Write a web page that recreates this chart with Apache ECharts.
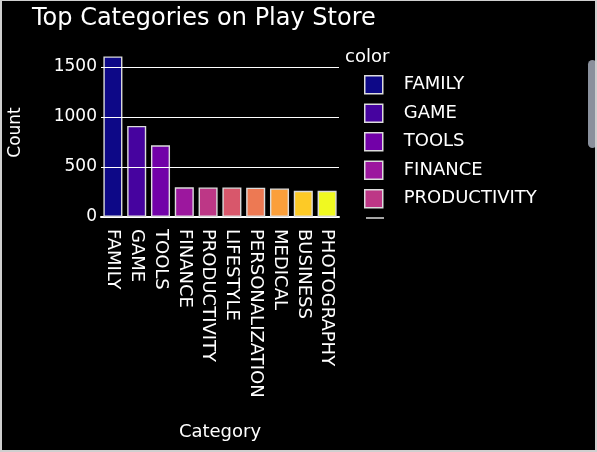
<!DOCTYPE html>
<html>
<head>
<meta charset="utf-8">
<script src="https://cdn.jsdelivr.net/npm/echarts@6/dist/echarts.min.js"></script>
<style>
  html, body { margin: 0; padding: 0; background: #000; }
  #chart { width: 597px; height: 452px; box-sizing: border-box; border: 2px solid #cfcfcf; border-top-width: 1px; }
</style>
</head>
<body>
<div id="chart"></div>
<script>
var categories = ['FAMILY', 'GAME', 'TOOLS', 'FINANCE', 'PRODUCTIVITY', 'LIFESTYLE',
  'PERSONALIZATION', 'MEDICAL', 'BUSINESS', 'PHOTOGRAPHY']
var counts = [1604, 910, 716, 296, 295, 295, 293, 285, 262, 261]
var colors = ['#0d0887', '#46039f', '#7201a8', '#9c179e', '#bd3786', '#d8576b',
  '#ed7953', '#fb9f3a', '#fdca26', '#f0f921']
var yTicks = [500, 1000, 1500]
var legendShown = categories.slice(0, 5)

var font = 'DejaVu Sans'
var chart = echarts.init(document.getElementById('chart'))

// one series per category, like plotly's color= grouping
var series = categories.map(function(name, i) {
  return {
    name: name,
    type: 'bar',
    stack: 'all',
    barCategoryGap: '20%',
    data: categories.map(function(c, j) { return j === i ? counts[i] : null }),
    itemStyle: { color: colors[i], borderColor: '#dcdcdc', borderWidth: 1.4 },
    emphasis: { disabled: true }
  }
})
// gridlines drawn under the bars
series.push({
  type: 'line',
  data: [],
  z: 1,
  markLine: {
    silent: true,
    symbol: 'none',
    label: { show: false },
    lineStyle: { color: '#ffffff', width: 1, type: 'solid' },
    data: yTicks.map(function(v) { return { yAxis: v } })
  }
})

chart.setOption({
  backgroundColor: '#000',
  animation: false,
  title: [
    { text: 'Top Categories on Play Store', left: 25, top: 1,
      textStyle: { color: '#fff', fontFamily: font, fontWeight: 'normal', fontSize: 24 } },
    { text: 'color', left: 338, top: 42,
      textStyle: { color: '#fff', fontFamily: font, fontWeight: 'normal', fontSize: 18 } }
  ],
  grid: { left: 99, right: 256, top: 47, height: 169 },
  legend: {
    orient: 'vertical',
    left: 362,
    top: 74,
    padding: 0,
    data: legendShown,
    icon: 'rect',
    itemWidth: 18,
    itemHeight: 18,
    itemGap: 9,
    itemStyle: { borderColor: '#dcdcdc', borderWidth: 1.5 },
    textStyle: { color: '#fff', fontFamily: font, fontSize: 18, lineHeight: 18, padding: [0, 0, 0, 16] }
  },
  xAxis: {
    type: 'category',
    data: categories,
    name: 'Category',
    nameLocation: 'middle',
    nameGap: 206,
    nameTextStyle: { color: '#fff', fontFamily: font, fontSize: 18 },
    axisLine: { lineStyle: { color: '#fff', width: 2 } },
    axisTick: { show: false },
    axisLabel: { color: '#fff', fontFamily: font, fontSize: 18, rotate: -90, margin: 12, interval: 0 }
  },
  yAxis: {
    type: 'value',
    min: 0,
    max: 1688,
    interval: 500,
    name: 'Count',
    nameLocation: 'middle',
    nameGap: 77,
    nameTextStyle: { color: '#fff', fontFamily: font, fontSize: 17 },
    splitLine: { show: false },
    axisLine: { show: false },
    axisTick: { show: false },
    axisLabel: {
      color: '#fff', fontFamily: font, fontSize: 17, margin: 4, showMaxLabel: false,
      formatter: function(v) { return v % 500 === 0 ? String(v) : '' }
    }
  },
  graphic: [
    { type: 'rect', shape: { x: 586, y: 59, width: 9, height: 88, r: 4.5 },
      style: { fill: '#8a909c' } },
    { type: 'line', shape: { x1: 364, y1: 217, x2: 382, y2: 217 },
      style: { stroke: '#dcdcdc', lineWidth: 1.5 } }
  ],
  series: series
})
</script>
</body>
</html>
